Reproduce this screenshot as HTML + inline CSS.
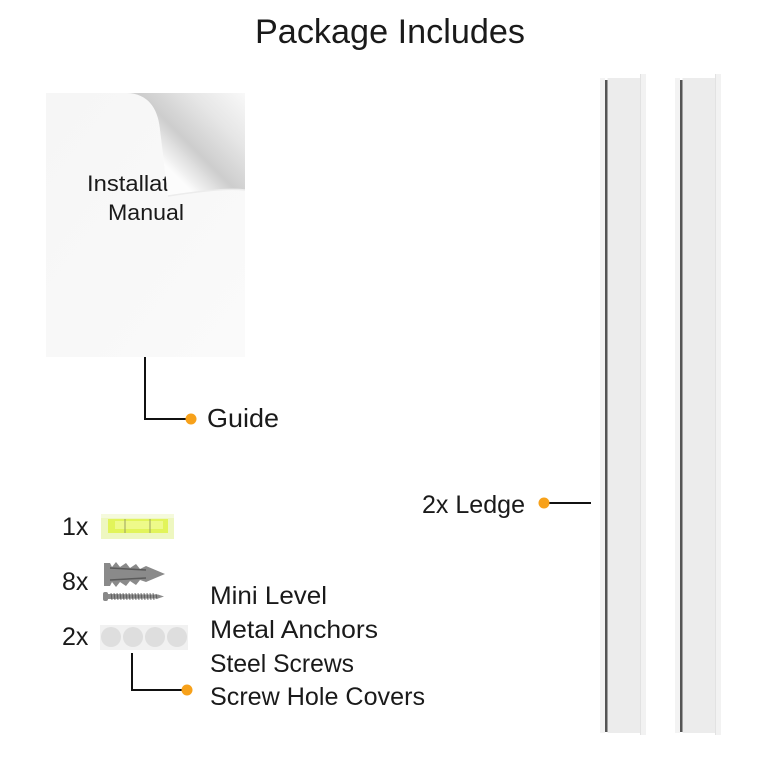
<!DOCTYPE html>
<html><head><meta charset="utf-8"><style>
html,body{margin:0;padding:0;background:#fff;}
svg{display:block;}
text{font-family:"Liberation Sans",Arial,sans-serif;fill:#1a1a1a;}
</style></head><body>
<svg width="768" height="768" viewBox="0 0 768 768" xmlns="http://www.w3.org/2000/svg">
<defs>
<linearGradient id="flap" x1="160" y1="160" x2="235" y2="85" gradientUnits="userSpaceOnUse">
<stop offset="0" stop-color="#fcfcfc"/>
<stop offset="0.3" stop-color="#cdcdcd"/>
<stop offset="0.65" stop-color="#e6e6e6"/>
<stop offset="1" stop-color="#f8f8f8"/>
</linearGradient>
<linearGradient id="paper" x1="0" y1="0" x2="1" y2="1">
<stop offset="0" stop-color="#f6f6f6"/>
<stop offset="1" stop-color="#fafafa"/>
</linearGradient>
</defs>
<rect width="768" height="768" fill="#fff"/>

<!-- Title -->
<text x="255" y="43" font-size="34.5" textLength="270" lengthAdjust="spacingAndGlyphs">Package Includes</text>

<!-- Manual paper -->
<path d="M46,93 L125,93 C148,93 158,108 160,130 L168,196 C200,191 230,188 245,190 L245,357 L46,357 Z" fill="url(#paper)"/>
<text x="87" y="191" font-size="22" textLength="82" lengthAdjust="spacingAndGlyphs">Installat</text>
<text x="108" y="220" font-size="22" textLength="76" lengthAdjust="spacingAndGlyphs">Manual</text>
<circle cx="200" cy="190" r="0.8" fill="#444"/>
<!-- flap -->
<path d="M125,93 C148,93 158,108 160,130 L168,196 C200,191 230,188 245,190 L245,93 Z" fill="url(#flap)"/>
<path d="M168,196 C200,191 230,188 245,190" fill="none" stroke="#ececec" stroke-width="1.5"/>

<!-- Guide connector -->
<polyline points="145,357 145,419 188,419" fill="none" stroke="#111" stroke-width="2"/>
<circle cx="191" cy="419" r="5.5" fill="#f7a11a"/>
<text x="207" y="427" font-size="26" textLength="72" lengthAdjust="spacingAndGlyphs">Guide</text>

<!-- Ledges -->
<g>
<rect x="600" y="78" width="5" height="655" fill="#f3f3f3"/>
<rect x="605" y="80" width="2.5" height="652" fill="#555"/>
<rect x="607.5" y="78" width="33" height="655" fill="#ececec"/>
<rect x="640" y="74" width="6" height="661" fill="#f2f2f2"/>
<rect x="640" y="74" width="1" height="661" fill="#e2e2e2"/>
</g>
<g>
<rect x="675" y="78" width="5" height="655" fill="#f3f3f3"/>
<rect x="680" y="80" width="2.5" height="652" fill="#555"/>
<rect x="682.5" y="78" width="33" height="655" fill="#ececec"/>
<rect x="715" y="74" width="6" height="661" fill="#f2f2f2"/>
<rect x="715" y="74" width="1" height="661" fill="#e2e2e2"/>
</g>

<!-- Ledge connector -->
<line x1="546" y1="503" x2="591" y2="503" stroke="#111" stroke-width="2"/>
<circle cx="544" cy="503" r="5.5" fill="#f7a11a"/>
<text x="422" y="513" font-size="25" textLength="103" lengthAdjust="spacingAndGlyphs">2x Ledge</text>

<!-- quantities -->
<text x="62" y="535" font-size="25">1x</text>
<text x="62" y="590" font-size="25">8x</text>
<text x="62" y="645" font-size="25">2x</text>

<!-- Mini level -->
<rect x="101" y="514" width="73" height="25" fill="#eef7c0"/>
<rect x="101" y="514" width="73" height="4" fill="#f5fadc"/>
<rect x="108" y="519" width="60" height="14" fill="#e2f45a"/>
<rect x="115" y="521" width="48" height="8" fill="#eefa8a"/>
<line x1="125" y1="519" x2="125" y2="533" stroke="#9aa060" stroke-width="1"/>
<line x1="150" y1="519" x2="150" y2="533" stroke="#9aa060" stroke-width="1"/>

<!-- Anchor -->
<path d="M104,563 L110,563 L112,567 L116,562 L120,567 L126,563 L130,568 L136,564 L140,569 L146,566 L165,574 L146,582 L140,580 L136,585 L130,581 L126,586 L120,582 L116,587 L112,582 L110,586 L104,586 Z" fill="#8a8a8a"/>
<path d="M110,568 L146,570 M110,580 L146,578" stroke="#5a5a5a" stroke-width="1.5"/>
<!-- Screw -->
<rect x="103" y="592" width="5" height="9" rx="2" fill="#888"/>
<path d="M108,594 L158,594.5 L164,596.5 L158,598.5 L108,599 Z" fill="#8c8c8c"/>
<path d="M111,593 l1,7 M114,593 l1,7 M117,593 l1,7 M120,593 l1,7 M123,593 l1,7 M126,593 l1,7 M129,593 l1,7 M132,593 l1,7 M135,593 l1,7 M138,593 l1,7 M141,593 l1,7 M144,593 l1,7 M147,593 l1,7 M150,593 l1,7 M153,593 l1,7 M156,594 l1,5" stroke="#555" stroke-width="0.8"/>

<!-- Covers -->
<rect x="100" y="625" width="88" height="25" fill="#f1f1f1"/>
<circle cx="111" cy="637" r="10" fill="#dedede"/>
<circle cx="133" cy="637" r="10" fill="#dedede"/>
<circle cx="155" cy="637" r="10" fill="#dedede"/>
<circle cx="177" cy="637" r="10" fill="#dedede"/>

<!-- Covers connector -->
<polyline points="132,653 132,690 184,690" fill="none" stroke="#111" stroke-width="2"/>
<circle cx="187" cy="690" r="5.5" fill="#f7a11a"/>

<!-- Labels -->
<text x="210" y="604" font-size="25" textLength="117" lengthAdjust="spacingAndGlyphs">Mini Level</text>
<text x="210" y="638" font-size="25" textLength="168" lengthAdjust="spacingAndGlyphs">Metal Anchors</text>
<text x="210" y="672" font-size="25" textLength="144" lengthAdjust="spacingAndGlyphs">Steel Screws</text>
<text x="210" y="705" font-size="25" textLength="215" lengthAdjust="spacingAndGlyphs">Screw Hole Covers</text>
</svg>
</body></html>
